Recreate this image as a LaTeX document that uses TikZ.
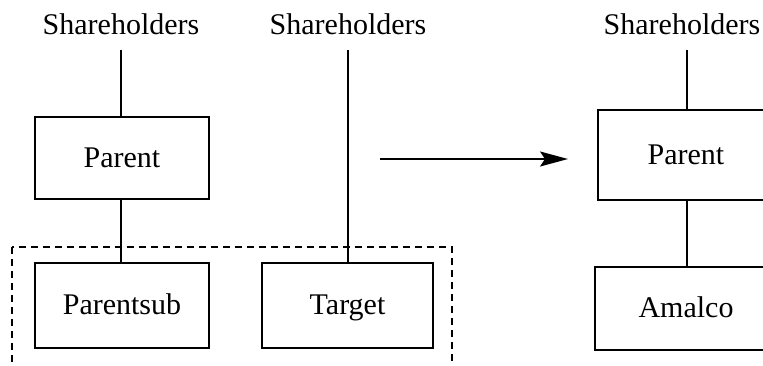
\documentclass[tikz,border=0pt]{standalone}
\usepackage{fontspec}
\setmainfont{Liberation Serif}
\usetikzlibrary{arrows.meta}
\begin{document}
\begin{tikzpicture}[x=1pt,y=-1pt,
  lbl/.style={font=\fontsize{30}{34}\selectfont, inner sep=0pt, anchor=base},
  ent/.style={draw, line width=1.8pt, inner sep=0pt, text height=22pt, text depth=4pt, font=\fontsize{30}{34}\selectfont},
  conn/.style={line width=1.5pt},
  grp/.style={line width=1.5pt, dash pattern=on 7pt off 5pt}]
\clip (0,0) rectangle (763,365);
\fill[white] (0,0) rectangle (763,365);
% left side
\node[lbl] (sh1) at (121,34) {Shareholders};
\node[lbl] (sh2) at (348,34) {Shareholders};
\node[ent, minimum width=174pt, minimum height=82pt] (par1) at (122,158) {Parent};
\node[ent, minimum width=174pt, minimum height=85pt] (psub) at (122,305.5) {Parentsub};
\node[ent, minimum width=171pt, minimum height=85pt] (tgt) at (347.5,305.5) {Target};
\draw[conn, shorten <=16pt] (sh1.south) -- (sh1.south |- par1.north);
\draw[conn] (par1.south -| sh1.south) -- (psub.north -| sh1.south);
\draw[conn, shorten <=16pt] (sh2.south) -- (sh2.south |- tgt.north);
\coordinate (g1) at (12,247);
\coordinate (g2) at (452,420);
\draw[grp] (g1) rectangle (g2);
% arrow
\coordinate (a1) at (380,159);
\coordinate (a2) at (568,159);
\draw[line width=1.8pt, -{Stealth[length=28pt, width=15pt, inset=5pt]}] (a1) -- (a2);
% right side
\node[lbl] (sh3) at (682,34) {Shareholders};
\node[ent, minimum width=176pt, minimum height=90pt] (par2) at (686,155) {Parent};
\node[ent, minimum width=182pt, minimum height=83pt] (amal) at (686,308.5) {Amalco};
\draw[conn, shorten <=16pt] (sh3.south -| 687,0) -- (par2.north -| 687,0);
\draw[conn] (par2.south -| 687,0) -- (amal.north -| 687,0);
\end{tikzpicture}
\end{document}
